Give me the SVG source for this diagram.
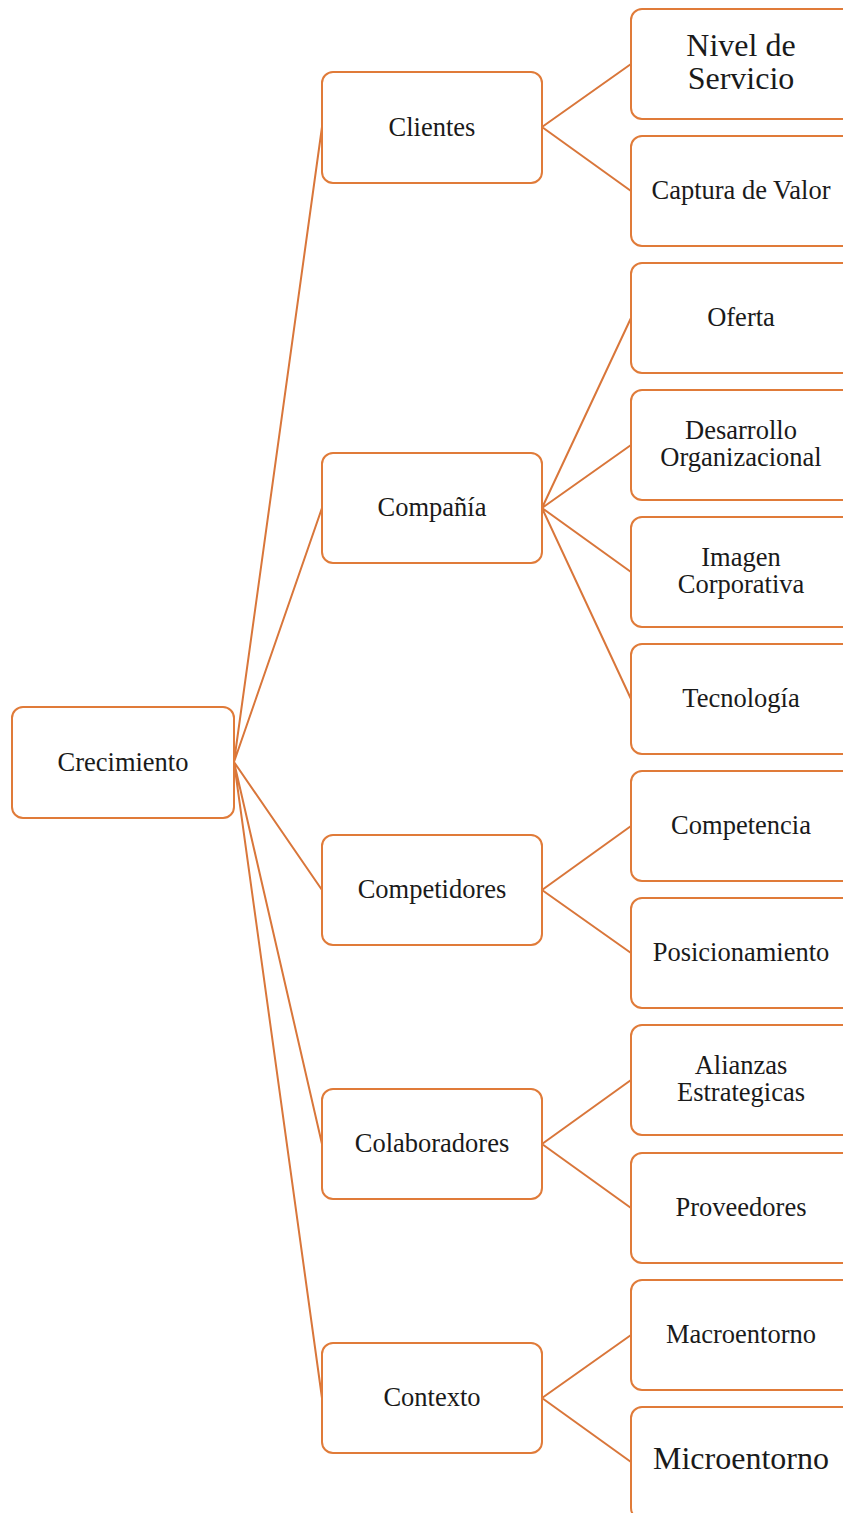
<svg xmlns="http://www.w3.org/2000/svg" width="843" height="1513" viewBox="0 0 843 1513">
<style>
.box{fill:#fff;stroke:#E07B39;stroke-width:2}
.ln{stroke:#D9763A;stroke-width:2;fill:none}
text{font-family:"Liberation Serif","Times New Roman",serif;font-size:26.5px;fill:#1a1a1a;text-anchor:middle}
.big{font-size:32px}
</style>
<rect width="843" height="1513" fill="#fff"/>
<g id="connectors">
<path class="ln" d="M234,762 L322,127 M234,762 L322,508 M234,762 L322,890 M234,762 L322,1144 M234,762 L322,1398"/>
<path class="ln" d="M542,127 L631,64 M542,127 L631,191"/>
<path class="ln" d="M542,508 L631,318 M542,508 L631,445 M542,508 L631,572 M542,508 L631,699"/>
<path class="ln" d="M542,890 L631,826 M542,890 L631,953"/>
<path class="ln" d="M542,1144 L631,1080 M542,1144 L631,1208"/>
<path class="ln" d="M542,1398 L631,1335 M542,1398 L631,1462"/>
</g>
<g id="crecimiento"><rect class="box" x="12" y="707" width="222" height="111" rx="11"/><text x="123" y="771">Crecimiento</text></g>
<g id="clientes"><rect class="box" x="322" y="72" width="220" height="111" rx="11"/><text x="432" y="136">Clientes</text></g>
<g id="compania"><rect class="box" x="322" y="453" width="220" height="110" rx="11"/><text x="432" y="516">Compañía</text></g>
<g id="competidores"><rect class="box" x="322" y="835" width="220" height="110" rx="11"/><text x="432" y="898">Competidores</text></g>
<g id="colaboradores"><rect class="box" x="322" y="1089" width="220" height="110" rx="11"/><text x="432" y="1152">Colaboradores</text></g>
<g id="contexto"><rect class="box" x="322" y="1343" width="220" height="110" rx="11"/><text x="432" y="1406">Contexto</text></g>
<g id="nivel"><rect class="box" x="631" y="9" width="222" height="110" rx="11"/><text class="big" x="741" y="56">Nivel de</text><text class="big" x="741" y="89">Servicio</text></g>
<g id="captura"><rect class="box" x="631" y="136" width="222" height="110" rx="11"/><text x="741" y="199">Captura de Valor</text></g>
<g id="oferta"><rect class="box" x="631" y="263" width="222" height="110" rx="11"/><text x="741" y="326">Oferta</text></g>
<g id="desarrollo"><rect class="box" x="631" y="390" width="222" height="110" rx="11"/><text x="741" y="439">Desarrollo</text><text x="741" y="466">Organizacional</text></g>
<g id="imagen"><rect class="box" x="631" y="517" width="222" height="110" rx="11"/><text x="741" y="566">Imagen</text><text x="741" y="593">Corporativa</text></g>
<g id="tecnologia"><rect class="box" x="631" y="644" width="222" height="110" rx="11"/><text x="741" y="707">Tecnología</text></g>
<g id="competencia"><rect class="box" x="631" y="771" width="222" height="110" rx="11"/><text x="741" y="834">Competencia</text></g>
<g id="posicionamiento"><rect class="box" x="631" y="898" width="222" height="110" rx="11"/><text x="741" y="961">Posicionamiento</text></g>
<g id="alianzas"><rect class="box" x="631" y="1025" width="222" height="110" rx="11"/><text x="741" y="1074">Alianzas</text><text x="741" y="1101">Estrategicas</text></g>
<g id="proveedores"><rect class="box" x="631" y="1153" width="222" height="110" rx="11"/><text x="741" y="1216">Proveedores</text></g>
<g id="macroentorno"><rect class="box" x="631" y="1280" width="222" height="110" rx="11"/><text x="741" y="1343">Macroentorno</text></g>
<g id="microentorno"><rect class="box" x="631" y="1407" width="222" height="112" rx="11"/><text class="big" x="741" y="1469">Microentorno</text></g>
</svg>
